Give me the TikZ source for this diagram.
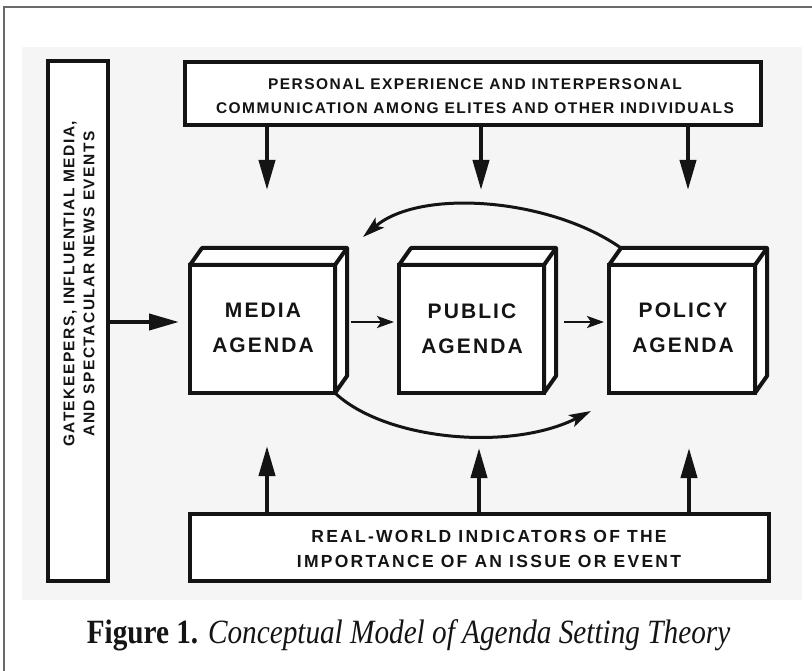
\documentclass[tikz,border=0pt]{standalone}
\usepackage{fontspec}
\usepackage{graphicx}
\setmainfont{Liberation Serif}
\newfontfamily\lblfont[LetterSpace=9.5]{Liberation Sans}
\newfontfamily\lowfont[LetterSpace=13]{Liberation Sans}
\newfontfamily\agfont[LetterSpace=10]{Liberation Sans}
\usetikzlibrary{arrows.meta,calc}
\definecolor{ink}{HTML}{141414}
\definecolor{framegray}{HTML}{6A6A6A}
\definecolor{paper}{HTML}{F5F5F5}

% top and right faces of a slab whose front face is node #1
\newcommand{\slabfaces}[1]{%
  \filldraw[face,fill=white] (#1.north west) -- ($(#1.north west)+(12,-17)$)
    -- ($(#1.north east)+(12,-17)$) -- ($(#1.south east)+(12,-17)$)
    -- (#1.south east) -- (#1.north east) -- cycle;
  \draw[face] (#1.north east) -- ($(#1.north east)+(12,-17)$);
}

\begin{document}
\begin{tikzpicture}[x=1pt,y=-1pt,
  frame/.style={draw=ink,line width=4pt,fill=white,inner sep=0pt,outer sep=0pt},
  face/.style={draw=ink,line width=4pt,line join=round},
  bigarrow/.style={draw=ink,line width=4pt,-{Triangle[length=30pt,width=16pt]}},
  smallarrow/.style={draw=ink,line width=2.5pt,-{Stealth[length=17pt,width=12pt,inset=4pt]}},
  curvearrow/.style={draw=ink,line width=3pt,-{Stealth[length=22pt,width=13pt,inset=5pt]}},
  smalltxt/.style={font=\lblfont\bfseries\fontsize{15.5}{#1}\selectfont,align=center,text=ink,inner sep=0pt},
  lowtxt/.style={font=\lowfont\bfseries\fontsize{17.5}{24.5}\selectfont,align=center,text=ink,inner sep=0pt},
  largetxt/.style={font=\agfont\bfseries\fontsize{21}{35}\selectfont,align=center,text=ink,inner sep=0pt}]

\useasboundingbox (0,0) rectangle (812,671);
\fill[white] (0,0) rectangle (812,671);
\fill[paper] (22,47) rectangle (802,600);
\draw[framegray,line width=2pt] (4,671) -- (4,7) -- (812,7);

% outer source boxes
\node[frame,minimum width=60pt,minimum height=520pt] (gate) at (78,321) {};
\node[smalltxt=20,rotate=90] (gatetext) at (79,284)
  {GATEKEEPERS, INFLUENTIAL MEDIA,\\AND SPECTACULAR NEWS EVENTS};

\node[frame,minimum width=576pt,minimum height=63pt] (personal) at (473,93.5) {};
\node[smalltxt=24] (personaltext) at (475,96)
  {PERSONAL EXPERIENCE AND INTERPERSONAL\\COMMUNICATION AMONG ELITES AND OTHER INDIVIDUALS};

\node[frame,minimum width=579pt,minimum height=67pt] (realworld) at (479.5,547.5) {};
\node[lowtxt] (realworldtext) at (489,549)
  {REAL-WORLD INDICATORS OF THE\\IMPORTANCE OF AN ISSUE OR EVENT};

% the three agendas
\node[frame,minimum width=145pt,minimum height=128pt] (media) at (262.5,329) {};
\node[frame,minimum width=145pt,minimum height=128pt] (public) at (471.5,329) {};
\node[frame,minimum width=146pt,minimum height=128pt] (policy) at (682,329) {};
\slabfaces{media}
\slabfaces{public}
\slabfaces{policy}
\node[largetxt] (mediatext) at (263,327.5) {MEDIA\\AGENDA};
\node[largetxt] (publictext) at (472,329) {PUBLIC\\AGENDA};
\node[largetxt] (policytext) at (683,327.5) {POLICY\\AGENDA};

% arrow end points
\coordinate (gin) at (179,322);
\coordinate (dm) at (267,190);
\coordinate (dp) at (481,190);
\coordinate (dq) at (688,190);
\coordinate (um) at (267,446);
\coordinate (up) at (479,448);
\coordinate (uq) at (689,448);
\coordinate (mp) at (394,322);
\coordinate (pq) at (604,322);
\coordinate (backtip) at (363,237);
\coordinate (fwdtip) at (591,411);

\draw[bigarrow] (gin -| gate.east) -- (gin);
\draw[bigarrow] (personal.south -| dm) -- (dm);
\draw[bigarrow] (personal.south -| dp) -- (dp);
\draw[bigarrow] (personal.south -| dq) -- (dq);
\draw[bigarrow] (realworld.north -| um) -- (um);
\draw[bigarrow] (realworld.north -| up) -- (up);
\draw[bigarrow] (realworld.north -| uq) -- (uq);

\draw[smallarrow] ($(media.east |- mp)+(16,0)$) -- (mp);
\draw[smallarrow] ($(public.east |- pq)+(20,0)$) -- (pq);

\draw[curvearrow] ($(policy.north west)+(12,-17)$) .. controls (550,198) and (420,188) .. (backtip);
\draw[curvearrow] (media.south east) .. controls (385,440) and (510,452) .. (fwdtip);

% caption
\node[text=ink,anchor=base,inner sep=0pt] (caption) at (408.5,643)
  {\scalebox{0.86}[1]{\fontsize{34}{38}\selectfont\textbf{Figure 1.} \textit{Conceptual Model of Agenda Setting Theory}}};
\end{tikzpicture}
\end{document}
